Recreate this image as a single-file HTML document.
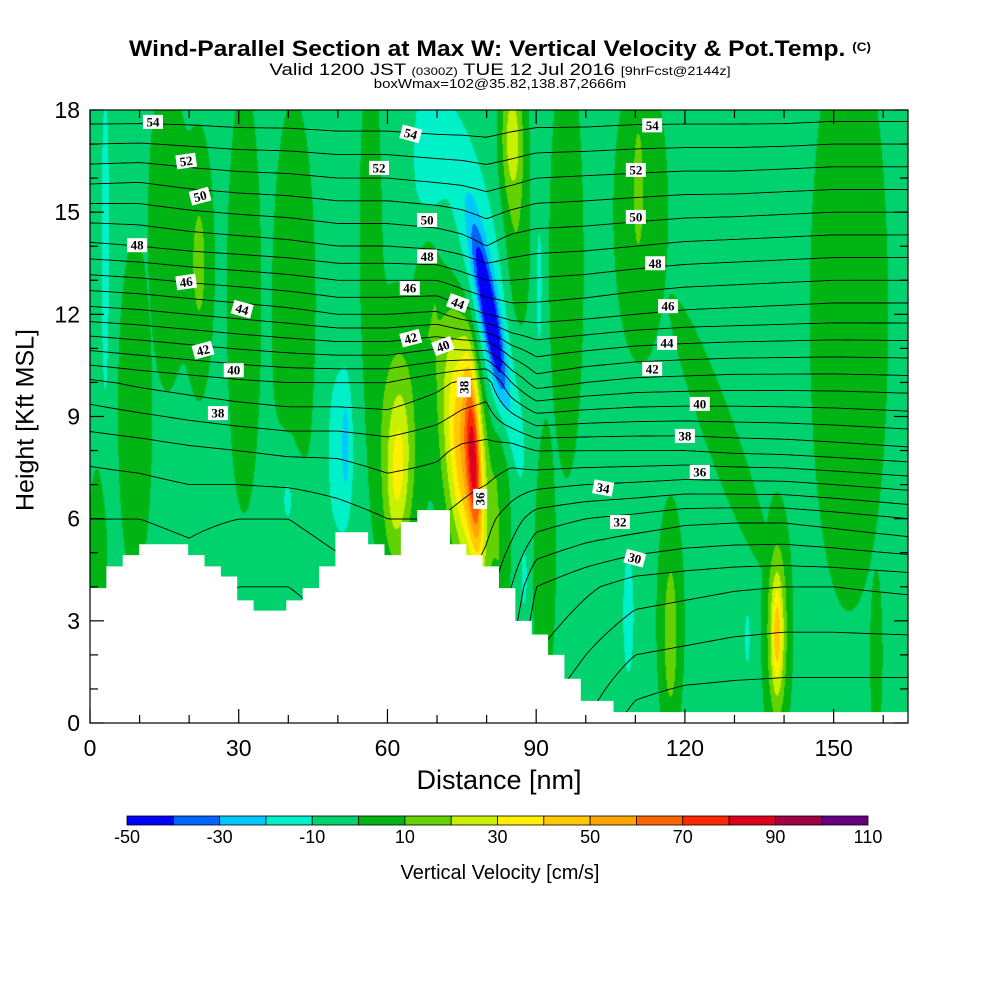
<!DOCTYPE html>
<html><head><meta charset="utf-8"><style>
body{margin:0;background:#fff;}
#wrap{position:relative;width:1000px;height:1000px;overflow:hidden;font-family:"Liberation Sans",Arial,sans-serif;}
.t{position:absolute;white-space:nowrap;color:#000;}
canvas{position:absolute;left:90px;top:110px;}
svg{position:absolute;left:0;top:0;}
</style></head><body>
<div id="wrap">
<div class="t" style="left:0;width:1000px;text-align:center;top:36px;font-size:22px;font-weight:bold;transform:scaleX(1.12);transform-origin:500px 0;">Wind-Parallel Section at Max W: Vertical Velocity &amp; Pot.Temp. <span style="font-size:12px;vertical-align:5px">(C)</span></div>
<div class="t" style="left:0;width:1000px;text-align:center;top:60px;font-size:17px;transform:scaleX(1.2);transform-origin:500px 0;">Valid 1200 JST <span style="font-size:11px">(0300Z)</span> TUE 12 Jul 2016 <span style="font-size:12px">[9hrFcst@2144z]</span></div>
<div class="t" style="left:0;width:1000px;text-align:center;top:76px;font-size:13px;transform:scaleX(1.15);transform-origin:500px 0;">boxWmax=102@35.82,138.87,2666m</div>
<canvas id="cv" width="818" height="613"></canvas>
<svg id="sv" width="1000" height="1000"></svg>
<div class="t" style="left:0;width:998px;text-align:center;top:765px;font-size:27px;">Distance [nm]</div>
<div class="t" style="left:26px;top:420px;font-size:25px;transform:translate(-50%,-50%) rotate(-90deg);">Height [Kft MSL]</div>
<div class="t" style="left:0;width:1000px;text-align:center;top:862px;font-size:20px;">Vertical Velocity [cm/s]</div>
</div>
<script>
// ---------- data ----------
const levelColors=["#0000ff","#0064ff","#00c8ff","#00f0c8","#00d26e","#00b414","#64d200","#c8f000","#fff000","#ffc800","#ffa500","#ff6400","#ff2800","#dc0020","#a00046","#640080"];
const cbTicks=[-50,-30,-10,10,30,50,70,90,110];
const xTicks=[0,30,60,90,120,150];
const yTicks=[0,3,6,9,12,15,18];
const wBackground=-4;
// additive cells: x(nm), z(kft), amplitude(cm/s), sx(nm), sz(kft), tilt(dx/dz)
const cellX=[77.3,75.5,62,62,80.5,80,68,85,86,3,22,40,50.5,51.5,108.5,87.5,132.5,138.5,138.5,117,90.5,110.5];
const cellZ=[7.8,8,7.3,8.2,12,12.5,16.5,17.3,14,14,13.5,6.8,8,8.2,3.2,4.2,2.5,2.6,2.7,2.6,12.9,15.7];
const cellAmp=[45,55,18,22,-42,-17,-11,26,12,-11,16,-12,-12,-12,-14,-10,-12,30,14,12,-10,10];
const cellSx=[1.0,3.0,1.5,3.2,1.2,3.2,2.5,1.6,1.8,0.7,1.8,1.8,2.2,0.5,0.8,0.5,0.4,0.8,1.2,0.9,0.6,0.8];
const cellSz=[2.0,2.6,1.5,2.6,1.7,3.6,2.0,1.4,2.5,4,2.4,1.3,2.0,1,1.3,0.7,0.6,1.1,1.6,1.4,1.8,1.4];
const cellTilt=[-0.3,-0.5,0.2,0,-1.2,-1.2,0,0,0,0,0,0,0,0,0,0,0,0,0,0,0,0];
// weak positive bands (combined by maximum, capped below 10 cm/s level)
const bandAmp=14;
const bandCap=8.9;
const bandX=[9,15.5,31,41,56.5,68,1.5,83,91.5,96,111,127,153,158.5,117,138.5];
const bandZ=[9.2,14.5,12.5,12,14.5,12.7,5,6.5,5,13.5,15,8.5,12,2,3,2.8];
const bandSx=[2.2,2.5,2.2,2.8,1.4,1.6,1.3,1.3,1.6,2.2,3.5,2.2,5,0.8,1.8,2];
const bandSz=[3.2,3,4,4,3.2,1.4,1.6,2,2.7,4,2.8,2.6,5.5,1.6,2.3,2.4];
const bandTilt=[0,0,0,0,0,0,0,0,0,0,0,-2.4,0,0,0,0];
// potential temperature grid
const thX=[0,10,20,30,40,50,60,70,75,80,85,90,100,110,120,130,140,150,165];
const thZ=[0,2,4,6,8,10,12,14,16,18];
const theta=[
[33.5,34,34.3,35,36.3,38.8,43.5,47.8,51.3,54.7],
[33.5,34,34.3,35,36.5,39.2,43.7,48,51.2,54.7],
[33.5,34,34.5,35.2,36.8,39.5,44,48.3,51.5,54.7],
[32.5,33,34,35,37,39.8,44.3,48.5,51.7,54.8],
[32.5,33,34,35,37.2,40,44.6,48.7,51.8,54.8],
[33.5,34,34.5,35.5,37.2,40,45,49,52,54.9],
[34.5,35,35.2,36,37.5,40,45,49,52,54.9],
[34.5,35,35.3,36,37.2,39.3,44.8,49.2,52.2,55],
[34.5,35,35.3,35.7,36.8,38.8,45.5,49.5,52.3,55],
[33.5,34,34.5,35.3,36.7,38.5,46,50,52.5,55],
[31.5,32,33,34.5,36.5,41,46.5,49.5,52.3,54.8],
[29,30,31,33.5,37,42.5,46.5,49.3,52,54.7],
[28,29,30.2,33,37,42,46.3,49.2,51.9,54.7],
[26.5,28,29.5,32.7,37,41.7,46,49,51.8,54.6],
[26,27.8,29.3,32.3,37,41.6,45.8,48.8,51.7,54.6],
[26,27.6,29.1,32.2,37.2,41.5,45.7,48.7,51.7,54.6],
[26,27.5,29,32.2,37.3,41.5,45.6,48.6,51.6,54.6],
[26,27.5,29,32.5,37.5,41.5,45.5,48.5,51.5,54.5],
[26,27.5,29.2,33,37.8,41.6,45.5,48.5,51.5,54.5]];
const labX=[12.7,19.4,22.2,9.5,19.4,30.7,22.8,29.0,25.8,64.7,58.3,68.0,68.0,64.5,74.2,64.7,71.2,75.4,78.7,113.4,110.1,110.1,114,116.6,116.4,113.4,123,120,123,103.5,106.9,109.9];
const labZ=[17.65,16.5,15.47,14.03,12.95,12.15,10.95,10.36,9.1,17.3,16.3,14.77,13.7,12.77,12.33,11.3,11.07,9.86,6.58,17.55,16.24,14.86,13.5,12.24,11.16,10.4,9.37,8.43,7.37,6.9,5.9,4.84];
const labText=["54","52","50","48","46","44","42","40","38","54","52","50","48","46","44","42","40","38","36","54","52","50","48","46","44","42","40","38","36","34","32","30"];
const labRot=[0,-8,-15,0,-8,15,-15,0,0,15,0,0,0,0,20,-15,-20,-90,-90,0,0,0,0,0,0,0,0,0,0,10,0,15];
// terrain: heights (kft) per 3.3 nm step
const terrainStep=3.3;
const terrain=[3.96,4.6,4.93,5.25,5.25,5.25,4.93,4.6,4.3,3.6,3.3,3.3,3.6,3.96,4.6,5.6,5.6,5.25,4.93,5.9,6.25,6.25,5.25,4.93,4.6,3.96,3.0,2.6,2.0,1.3,0.65,0.65,0.32,0.32,0.32,0.32,0.32,0.32,0.32,0.32,0.32,0.32,0.32,0.32,0.32,0.32,0.32,0.32,0.32,0.32];
// ---------- axes ----------
const PL=90,PR=908,PT=110,PB=723,XMAX=165,ZMAX=18;
const sx=v=>PL+v*(PR-PL)/XMAX, sz=v=>PB-v*(PB-PT)/ZMAX;
const NS="http://www.w3.org/2000/svg";
const svg=document.getElementById('sv');
function mk(t,a,p){const e=document.createElementNS(NS,t);for(const k in a)e.setAttribute(k,a[k]);(p||svg).appendChild(e);return e;}
// ---------- field ----------
function wAt(x,z){let w=wBackground;for(let i=0;i<cellX.length;i++){const dz=z-cellZ[i];const dx=x-cellX[i]-cellTilt[i]*dz;w+=cellAmp[i]*Math.exp(-0.5*((dx/cellSx[i])**2+(dz/cellSz[i])**2));}
let b=0;for(let i=0;i<bandX.length;i++){const dz=z-bandZ[i];const dx=x-bandX[i]-bandTilt[i]*dz;b=Math.max(b,bandAmp*Math.exp(-0.5*((dx/bandSx[i])**2+(dz/bandSz[i])**2)));}
return w+Math.min(bandCap,b);}
const cv=document.getElementById('cv'),ctx=cv.getContext('2d');
const img=ctx.createImageData(818,613);
const rgb=levelColors.map(c=>[parseInt(c.substr(1,2),16),parseInt(c.substr(3,2),16),parseInt(c.substr(5,2),16)]);
for(let py=0;py<613;py++){const z=(613-py)*ZMAX/613;for(let px=0;px<818;px++){const x=px*XMAX/818;const w=wAt(x,z);let k=Math.floor((w+50)/10);k=Math.max(0,Math.min(15,k));const o=(py*818+px)*4;img.data[o]=rgb[k][0];img.data[o+1]=rgb[k][1];img.data[o+2]=rgb[k][2];img.data[o+3]=255;}}
ctx.putImageData(img,0,0);
// ---------- theta contours ----------
function thAt(x,z){let i=0;while(i<thX.length-2&&x>thX[i+1])i++;let j=0;while(j<thZ.length-2&&z>thZ[j+1])j++;const fx=Math.max(0,Math.min(1,(x-thX[i])/(thX[i+1]-thX[i]))),fz=Math.max(0,Math.min(1,(z-thZ[j])/(thZ[j+1]-thZ[j])));return theta[i][j]*(1-fx)*(1-fz)+theta[i+1][j]*fx*(1-fz)+theta[i][j+1]*(1-fx)*fz+theta[i+1][j+1]*fx*fz;}
const G=3,nx=Math.ceil(818/G)+1,ny=Math.ceil(613/G)+1,grid=[];
for(let j=0;j<ny;j++){grid.push([]);for(let i=0;i<nx;i++){grid[j].push(thAt(Math.min(818,i*G)*XMAX/818,Math.max(0,613-j*G)*ZMAX/613));}}
const cg=mk('g',{stroke:'#000','stroke-width':'0.9',fill:'none'});
let d='';
for(let L=26;L<=56;L++){for(let j=0;j<ny-1;j++)for(let i=0;i<nx-1;i++){const a=grid[j][i],b=grid[j][i+1],c=grid[j+1][i+1],e=grid[j+1][i];const pts=[];const x0=PL+Math.min(818,i*G),x1=PL+Math.min(818,(i+1)*G),y0=PT+j*G,y1=Math.min(PB,PT+(j+1)*G);
function ed(v1,v2,X1,Y1,X2,Y2){if((v1<L)!=(v2<L)){const t=(L-v1)/(v2-v1);pts.push([X1+t*(X2-X1),Y1+t*(Y2-Y1)]);}}
ed(a,b,x0,y0,x1,y0);ed(b,c,x1,y0,x1,y1);ed(c,e,x1,y1,x0,y1);ed(e,a,x0,y1,x0,y0);
for(let k=0;k+1<pts.length;k+=2)d+=`M${pts[k][0].toFixed(1)} ${pts[k][1].toFixed(1)}L${pts[k+1][0].toFixed(1)} ${pts[k+1][1].toFixed(1)}`;}}
mk('path',{d:d},cg);
// ---------- terrain ----------
let tp=`M${PL} ${PB}`;for(let i=0;i<terrain.length;i++){const xa=sx(Math.min(XMAX,i*terrainStep)),xb=sx(Math.min(XMAX,(i+1)*terrainStep));tp+=`L${xa} ${sz(terrain[i])}L${xb} ${sz(terrain[i])}`;}tp+=`L${PR} ${PB}Z`;
const ter=mk('path',{d:tp,fill:'#fff',stroke:'none'});


// ---------- labels ----------
const lg=mk('g',{});
for(let i=0;i<labText.length;i++){const g=mk('g',{transform:`translate(${sx(labX[i])},${sz(labZ[i])}) rotate(${labRot[i]})`},lg);


mk('rect',{x:-10,y:-7,width:20,height:14,fill:'#fff'},g);
const t=mk('text',{x:0,y:4.5,'text-anchor':'middle','font-size':'13','font-family':'Liberation Serif, serif','font-weight':'bold'},g);t.textContent=labText[i];}
// ---------- frame & ticks ----------
const ax=mk('g',{stroke:'#000','stroke-width':'1.2'});
mk('rect',{x:PL,y:PT,width:PR-PL,height:PB-PT,fill:'none'},ax);
for(let v=0;v<=XMAX;v+=10){const L=v%30==0?14:8;const X=sx(v);mk('line',{x1:X,y1:PB,x2:X,y2:PB-L},ax);mk('line',{x1:X,y1:PT,x2:X,y2:PT+L},ax);}
for(let v=0;v<=ZMAX;v+=1){const L=v%3==0?14:8;const Y=sz(v);mk('line',{x1:PL,y1:Y,x2:PL+L,y2:Y},ax);mk('line',{x1:PR,y1:Y,x2:PR-L,y2:Y},ax);}
xTicks.forEach(v=>{const t=mk('text',{x:sx(v),y:756,'text-anchor':'middle','font-size':'23','font-family':'Liberation Sans, sans-serif'});t.textContent=v;});
yTicks.forEach(v=>{const t=mk('text',{x:80,y:sz(v)+8,'text-anchor':'end','font-size':'23','font-family':'Liberation Sans, sans-serif'});t.textContent=v;});
// ---------- colorbar ----------
const cb=mk('g',{});
const CBL=127,CBR=868,CBT=816,CBH=9,bw=(CBR-CBL)/levelColors.length;
levelColors.forEach((c,i)=>{const r=mk('rect',{x:CBL+i*bw,y:CBT,width:bw,height:CBH,fill:c,stroke:'#000','stroke-width':'0.8'},cb);});
cbTicks.forEach((v,i)=>{const t=mk('text',{x:CBL+(v+50)/10*bw,y:843,'text-anchor':'middle','font-size':'18','font-family':'Liberation Sans, sans-serif'},cb);t.textContent=v;});
</script>
</body></html>
